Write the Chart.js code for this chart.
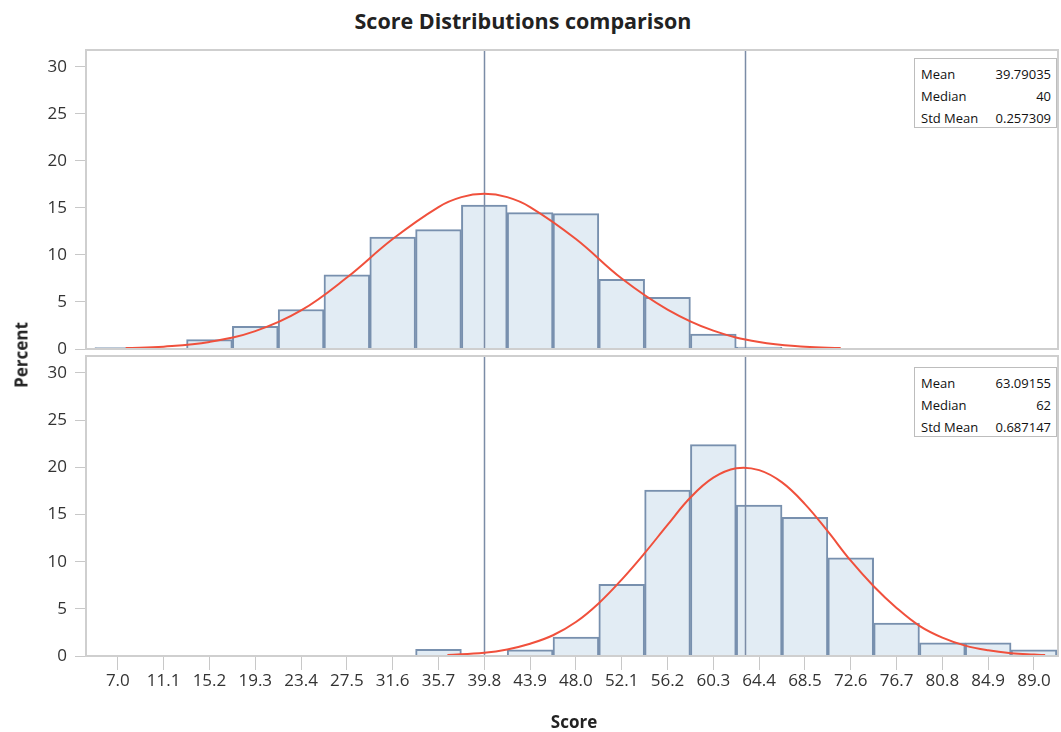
<!DOCTYPE html>
<html>
<head>
<meta charset="utf-8">
<title>Score Distributions comparison</title>
<script src="https://cdn.jsdelivr.net/npm/chart.js@4/dist/chart.umd.min.js"></script>
<style>
  html, body { margin: 0; padding: 0; background: #fff; }
  body { width: 1061px; height: 732px; position: relative; overflow: hidden; font-family: "Open Sans", sans-serif; color: #222; }
  #title { position: absolute; left: 0; top: 6px; width: 1046px; text-align: center; font-weight: bold; font-size: 21.5px; }
  .panel { position: absolute; left: 0; }
  #y-title { position: absolute; left: 21px; top: 355px; transform: translate(-50%, -50%) rotate(-90deg); font-weight: bold; font-size: 17px; white-space: nowrap; }
  #x-title { position: absolute; left: 574px; top: 721px; transform: translate(-50%, -50%); font-weight: bold; font-size: 17px; }
  .stats { position: absolute; left: 914px; width: 143px; height: 70px; box-sizing: border-box; border: 1px solid #bdbdbd; background: #fff; padding: 4px 5px 0 6px; font-size: 13px; line-height: 22px; color: #111; }
  .stats .row { display: flex; justify-content: space-between; }
</style>
</head>
<body>
<div id="title">Score Distributions comparison</div>
<canvas id="top-chart" class="panel" width="1061" height="364" style="top:0"></canvas>
<canvas id="bottom-chart" class="panel" width="1061" height="380" style="top:352px"></canvas>
<div id="y-title">Percent</div>
<div id="x-title">Score</div>
<div id="top-stats" class="stats" style="top:58px"></div>
<div id="bottom-stats" class="stats" style="top:367px"></div>
<script>
// --- Data ---
const binCenters = [7.0, 11.1, 15.2, 19.3, 23.4, 27.5, 31.6, 35.7, 39.8, 43.9, 48.0, 52.1, 56.2, 60.3, 64.4, 68.5, 72.6, 76.7, 80.8, 84.9, 89.0];
const topPercent = [0.15, 0, 1.0, 2.4, 4.2, 7.9, 11.9, 12.7, 15.3, 14.5, 14.4, 7.4, 5.5, 1.6, 0.2, 0, 0, 0, 0, 0, 0];
const bottomPercent = [0, 0, 0, 0, 0, 0, 0, 0.7, 0, 0.65, 2.0, 7.6, 17.6, 22.4, 16.0, 14.7, 10.4, 3.5, 1.4, 1.4, 0.65];

// fitted curves
const topCurveX = [7.7, 11.1, 15.2, 19.3, 23.4, 27.5, 31.6, 35.7, 37.75, 39.8, 41.85, 43.9, 48.0, 52.1, 56.2, 60.3, 64.4, 68.5, 71.7];
const topCurveY = [0.1, 0.25, 0.75, 1.9, 4.1, 7.6, 11.7, 15.1, 16.15, 16.5, 16.15, 15.1, 11.7, 7.5, 4.2, 1.95, 0.75, 0.25, 0.1];
const bottomCurveX = [36.5, 39.8, 41.85, 43.9, 45.95, 48.0, 50.05, 52.1, 54.15, 56.2, 58.25, 60.3, 62.35, 64.4, 66.45, 68.5, 70.55, 72.6, 74.65, 76.7, 78.75, 80.8, 82.85, 84.9, 86.95, 89.0, 90.0];
const bottomCurveY = [0.1, 0.35, 0.7, 1.3, 2.2, 3.6, 5.6, 8.1, 10.9, 13.9, 16.8, 18.9, 19.9, 19.7, 18.4, 16.1, 13.2, 10.1, 7.4, 5.1, 3.2, 1.95, 1.1, 0.6, 0.3, 0.15, 0.1];

const yTicks = [0, 5, 10, 15, 20, 25, 30];
const meanLines = [39.79035, 63.09155];

const statLabels = ['Mean', 'Median', 'Std Mean'];
const topStats = ['39.79035', '40', '0.257309'];
const bottomStats = ['63.09155', '62', '0.687147'];

// --- Styles ---
const barFill = '#e2ecf4';
const barBorder = '#7890ae';
const curveColor = '#f0503c';
const refLineColor = '#7b8ca6';
const frameColor = '#cfcfcf';
const tickFont = { family: 'Open Sans', size: 17 };

// draws the gray frame and the mean reference lines
const panelPlugin = {
    id: 'panel',
    afterDatasetDraw(chart, args) {
        if (args.meta.type !== 'bar') return;
        const ctx = chart.ctx;
        const area = chart.chartArea;
        const xScale = chart.scales.x;
        ctx.save();
        ctx.strokeStyle = refLineColor;
        ctx.lineWidth = 1.5;
        meanLines.forEach(m => {
            const px = Math.round(xScale.getPixelForValue(m)) + 0.5;
            ctx.beginPath();
            ctx.moveTo(px, area.top);
            ctx.lineTo(px, area.bottom);
            ctx.stroke();
        });
        ctx.restore();
    },
    afterDraw(chart) {
        const ctx = chart.ctx;
        const a = chart.chartArea;
        ctx.save();
        ctx.strokeStyle = frameColor;
        ctx.lineWidth = 2;
        ctx.strokeRect(a.left, a.top, a.right - a.left, a.bottom - a.top);
        ctx.restore();
    }
};

// no extra room for half labels, the layout padding fixes the plot box
function noPadding(scale) {
    scale.paddingTop = 0;
    scale.paddingBottom = 0;
    scale.paddingLeft = 0;
    scale.paddingRight = 0;
}

function makePanel(canvasId, percents, curveX, curveY, showX) {
    const bars = binCenters.map((c, i) => ({ x: c, y: percents[i] > 0 ? percents[i] : null }));
    const curve = curveX.map((x, i) => ({ x: x, y: curveY[i] }));
    return new Chart(document.getElementById(canvasId), {
        data: {
            datasets: [
                {
                    type: 'bar',
                    data: bars,
                    backgroundColor: barFill,
                    borderColor: barBorder,
                    borderWidth: 2,
                    barPercentage: 1,
                    categoryPercentage: 1,
                    order: 2
                },
                {
                    type: 'line',
                    data: curve,
                    borderColor: curveColor,
                    borderWidth: 2,
                    pointRadius: 0,
                    tension: 0.4,
                    fill: false,
                    order: 1
                }
            ]
        },
        options: {
            responsive: false,
            animation: false,
            events: [],
            // top panel: canvas is taller than its plot so the "0" label is not cut
            layout: { padding: showX ? { top: 4, right: 3, bottom: 0, left: 0 } : { top: 50, right: 3, bottom: 15, left: 0 } },
            plugins: { legend: { display: false }, tooltip: { enabled: false }, title: { display: false } },
            scales: {
                x: {
                    type: 'linear',
                    min: 4.15,
                    max: 91.15,
                    offset: false,
                    display: showX,
                    grid: { drawOnChartArea: false, drawTicks: true, tickLength: 14, color: '#c8c8c8', offset: false },
                    border: { display: false },
                    afterBuildTicks: scale => { scale.ticks = binCenters.map(v => ({ value: v })); },
                    afterFit: scale => { scale.height = showX ? 76 : 0; noPadding(scale); },
                    ticks: {
                        autoSkip: false,
                        maxRotation: 0,
                        padding: 1,
                        color: '#333',
                        font: tickFont,
                        callback: v => Number(v).toFixed(1)
                    }
                },
                y: {
                    type: 'linear',
                    min: 0,
                    max: 31.8,
                    grid: { drawOnChartArea: false, drawTicks: true, tickLength: 11, color: '#c8c8c8' },
                    border: { display: false },
                    afterBuildTicks: scale => { scale.ticks = yTicks.map(v => ({ value: v })); },
                    afterFit: scale => { scale.width = 86; noPadding(scale); },
                    ticks: { padding: 8, color: '#333', font: tickFont }
                }
            }
        },
        plugins: [panelPlugin]
    });
}

function fillStats(id, values) {
    const box = document.getElementById(id);
    box.innerHTML = statLabels.map((l, i) =>
        '<div class="row"><span>' + l + '</span><span>' + values[i] + '</span></div>').join('');
}

makePanel('top-chart', topPercent, topCurveX, topCurveY, false);
makePanel('bottom-chart', bottomPercent, bottomCurveX, bottomCurveY, true);
fillStats('top-stats', topStats);
fillStats('bottom-stats', bottomStats);
</script>
</body>
</html>
